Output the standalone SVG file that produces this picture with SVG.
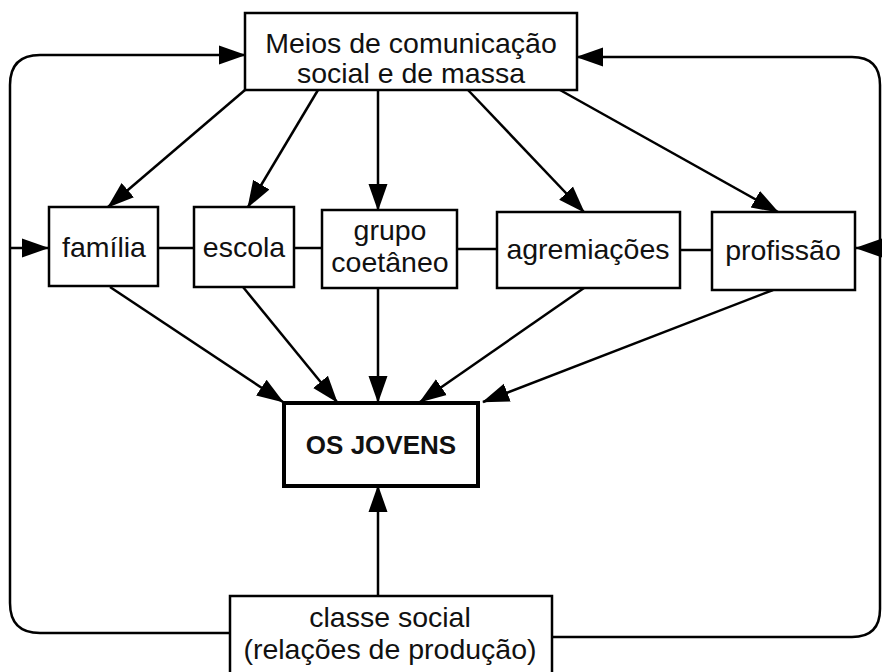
<svg xmlns="http://www.w3.org/2000/svg" width="884" height="672" viewBox="0 0 884 672">
<defs>
<marker id="ah" markerUnits="userSpaceOnUse" markerWidth="27" markerHeight="22" viewBox="0 0 27 22" refX="26" refY="11" orient="auto">
<path d="M0,1.5 L27,11 L0,20.5 Z" fill="#000"/>
</marker>
<style>
.box{fill:#fff;stroke:#000;stroke-width:2.5}
.thick{fill:#fff;stroke:#000;stroke-width:4}
.t{font-family:"Liberation Sans",Arial,sans-serif;font-size:28.5px;fill:#111;text-anchor:middle}
.b{font-family:"Liberation Sans",Arial,sans-serif;font-size:26px;font-weight:bold;fill:#111;text-anchor:middle}
.ln{fill:none;stroke:#000;stroke-width:2.5}
.ar{fill:none;stroke:#000;stroke-width:2.5;marker-end:url(#ah)}
</style>
</defs>
<rect width="884" height="672" fill="#fff"/>
<g id="connectors">
<path class="ar" d="M230,633 H40 Q10,633 10,603 V85 Q10,55 40,55 H245"/>
<path class="ar" d="M552,637 H852 Q880,637 880,609 V85 Q880,57 852,57 H577"/>
<path class="ar" d="M10,248 H48"/>
<path class="ar" d="M880,248 H856"/>
<line class="ln" x1="158" y1="248" x2="194" y2="248"/>
<line class="ln" x1="294" y1="248" x2="322" y2="248"/>
<line class="ln" x1="457" y1="249" x2="497" y2="249"/>
<line class="ln" x1="680" y1="250" x2="712" y2="250"/>
<path class="ar" d="M245,90 L108,207"/>
<path class="ar" d="M318,90 L248,207"/>
<path class="ar" d="M378,90 V210"/>
<path class="ar" d="M468,90 L584,212"/>
<path class="ar" d="M560,90 L778,212"/>
<path class="ar" d="M110,287 L283,402"/>
<path class="ar" d="M243,287 L337,402"/>
<path class="ar" d="M378,288 V402"/>
<path class="ar" d="M584,288 L420,402"/>
<path class="ar" d="M773,290 L483,402"/>
<path class="ar" d="M378,596 V486"/>
</g>
<g id="meios">
<rect class="box" x="245" y="13" width="332" height="77"/>
<text class="t" x="411" y="53">Meios de comunicação</text>
<text class="t" x="411" y="83">social e de massa</text>
</g>
<g id="familia">
<rect class="box" x="49" y="207" width="109" height="79"/>
<text class="t" x="104" y="257">família</text>
</g>
<g id="escola">
<rect class="box" x="194" y="207" width="100" height="80"/>
<text class="t" x="244" y="257">escola</text>
</g>
<g id="grupo">
<rect class="box" x="322" y="210" width="135" height="78"/>
<text class="t" x="390" y="240">grupo</text>
<text class="t" x="390" y="272">coetâneo</text>
</g>
<g id="agremiacoes">
<rect class="box" x="497" y="212" width="183" height="76"/>
<text class="t" x="588" y="259">agremiações</text>
</g>
<g id="profissao">
<rect class="box" x="712" y="212" width="143" height="78"/>
<text class="t" x="783" y="260">profissão</text>
</g>
<g id="jovens">
<rect class="thick" x="284" y="403" width="194" height="83"/>
<text class="b" x="381" y="454">OS JOVENS</text>
</g>
<g id="classe">
<rect class="box" x="230" y="596" width="322" height="80"/>
<text class="t" x="390" y="627">classe social</text>
<text class="t" x="390" y="659">(relações de produção)</text>
</g>
</svg>
